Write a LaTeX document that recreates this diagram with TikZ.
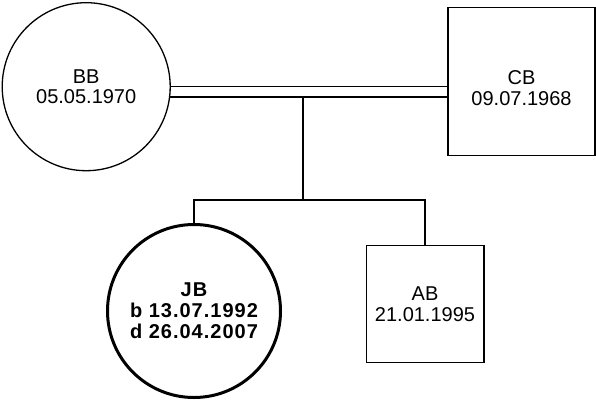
\documentclass[tikz,border=0pt]{standalone}
\usepackage{fontspec}
\setmainfont{Liberation Sans}
\newfontfamily\jbfont[LetterSpace=5]{Liberation Sans}
\begin{document}
\begin{tikzpicture}[x=1pt,y=-1pt,
  person/.style={draw, line width=1.3pt, inner sep=0pt, align=center,
    font=\fontsize{20}{20.5}\selectfont},
  txt/.style={inner sep=0pt, align=center, font=\fontsize{20}{20.5}\selectfont},
  link/.style={line width=1.3pt}]
\useasboundingbox (0,0) rectangle (596,399);
\node[person, circle, minimum size=168] (BB) at (86.2,86.7) {BB\\05.05.1970};
\node[person, rectangle, minimum width=147, minimum height=148.4] (CB) at (521.5,81.5) {};
\node[txt] (CBt) at (521.5,88) {CB\\09.07.1968};
\node[person, circle, line width=3pt, minimum size=173, font=\fontsize{20}{21}\jbfont\bfseries] (JB) at (194,311) {JB\\b 13.07.1992\\d 26.04.2007};
\node[person, rectangle, minimum width=117.7, minimum height=117] (AB) at (425,304.2) {AB\\21.01.1995};
\draw[link] (BB.0) -- (BB.0 -| CB.west);
\draw[link] (BB.-7) -- (BB.-7 -| CB.west);
\coordinate (m) at (303,96.5);
\coordinate (bar) at (303,200);
\draw[link] (m) -- (bar);
\draw[link] (JB.north) |- (bar) -| (AB.north);
\end{tikzpicture}
\end{document}
